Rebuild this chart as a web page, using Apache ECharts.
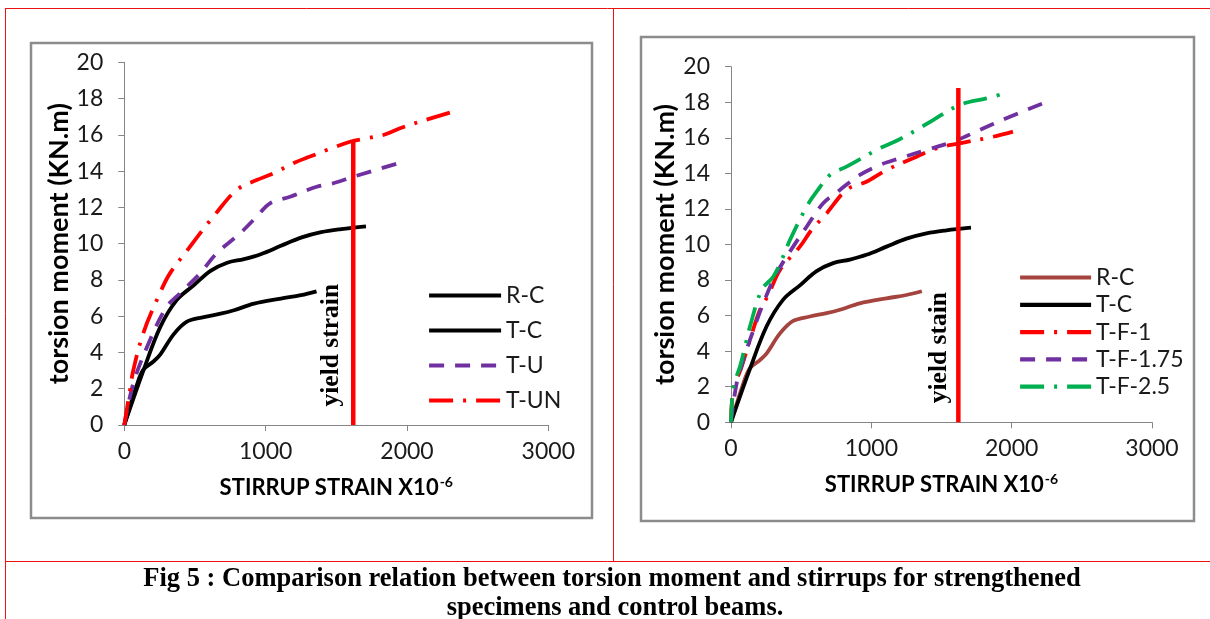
<!DOCTYPE html>
<html><head><meta charset="utf-8">
<script src="https://cdn.jsdelivr.net/npm/echarts@6/dist/echarts.min.js"></script>
<style>html,body{margin:0;padding:0;background:#fff}#c{width:1210px;height:619px}</style>
</head><body><div id="c"></div>
<script>
// ---- data (x = stirrup strain x10^-6, y = torsion moment kN.m) ----
const xMin = 0, xMax = 3000, xInterval = 1000;
const yMin = 0, yMax = 20, yInterval = 2;
const rcData = [[0,0],[88,2.19],[135,3.05],[206,3.5],[254,3.88],[349,5.0],[443,5.7],[562,5.95],[681,6.14],[776,6.33],[918,6.69],[1108,6.97],[1250,7.16],[1360,7.37]];
const tcData = [[0,0],[135,3.0],[254,5.4],[372,6.9],[491,7.7],[610,8.5],[728,8.95],[847,9.15],[965,9.42],[1108,9.88],[1250,10.33],[1393,10.63],[1535,10.8],[1710,10.95]];
const tuData = [[0,0],[64,2.3],[182,4.69],[300,6.52],[394,7.26],[536,8.36],[654,9.47],[819,10.57],[937,11.49],[1031,12.22],[1173,12.59],[1361,13.14],[1479,13.33],[1621,13.69],[1975,14.52]];
const tunData = [[0,0],[40,1.93],[64,3.03],[134,5.06],[241,7.08],[323,8.36],[465,9.83],[536,10.57],[630,11.49],[795,12.96],[937,13.51],[1055,13.88],[1196,14.43],[1314,14.8],[1432,15.16],[1597,15.62],[1715,15.81],[1833,15.99],[1951,16.36],[2093,16.73],[2329,17.28]];
const tf1Data = [[0,0],[17,1.82],[76,3.13],[135,4.63],[206,6.32],[266,7.16],[349,8.57],[491,9.88],[574,10.82],[681,11.75],[823,13.07],[965,13.53],[1108,14.19],[1322,14.94],[1464,15.41],[1630,15.69],[1867,16.06],[2009,16.35]];
const tf175Data = [[0,0],[40,2.19],[88,3.5],[135,4.63],[230,6.69],[325,8.38],[443,9.88],[539,11.0],[657,12.32],[776,13.07],[918,13.91],[1060,14.47],[1203,14.85],[1393,15.32],[1582,15.78],[1772,16.44],[1962,17.1],[2223,17.94]];
const tf25Data = [[0,0],[17,2.0],[64,3.13],[100,4.25],[135,5.38],[218,7.44],[301,8.19],[361,9.13],[420,10.25],[539,12.13],[610,12.97],[705,13.91],[823,14.38],[1060,15.41],[1191,15.88],[1322,16.44],[1440,17.0],[1630,17.85],[1820,18.22],[1950,18.5]];
const yieldStrain = 1620;
const yieldTopLeft = 15.7, yieldTopRight = 18.8;
const leftNames = ['R-C','T-C','T-U','T-UN'];
const rightNames = ['R-C','T-C','T-F-1','T-F-1.75','T-F-2.5'];
const xTitle = 'STIRRUP STRAIN X10';
const xTitleSup = '-6';
const yTitle = 'torsion moment (KN.m)';
const yieldLabels = ['yield strain', 'yield stain'];
const captionLines = ['Fig 5 : Comparison relation between torsion moment and stirrups for strengthened','specimens and control beams.'];

const FONT = 'Lato';
const AX = '#868686';
const W = 3.8;
const dashDot = [24, 10, 3, 10];
const dashed = [15, 11];

const chart = echarts.init(document.getElementById('c'), null, {renderer: 'canvas'});

function xAx(gi) {
  return {
    type: 'value', gridIndex: gi, min: xMin, max: xMax, interval: xInterval,
    axisLine: {show: true, lineStyle: {color: AX, width: 1}},
    axisTick: {show: true, length: 6, lineStyle: {color: AX}},
    splitLine: {show: false},
    axisLabel: {color: '#1a1a1a', fontFamily: FONT, fontSize: 23, margin: 15, formatter: v => String(v)},
    name: '{a|' + xTitle + '}{s|' + xTitleSup + '}', nameLocation: 'middle', nameGap: 50,
    nameTextStyle: {rich: {
      a: {fontFamily: FONT, fontWeight: 'bold', fontSize: 22, color: '#000', lineHeight: 26},
      s: {fontFamily: FONT, fontWeight: 'bold', fontSize: 14, color: '#000', verticalAlign: 'top', lineHeight: 26, padding: [0,0,11,1]}
    }}
  };
}
function yAx(gi) {
  return {
    type: 'value', gridIndex: gi, min: yMin, max: yMax, interval: yInterval,
    axisLine: {show: true, lineStyle: {color: AX, width: 1}},
    axisTick: {show: true, length: 6, lineStyle: {color: AX}},
    splitLine: {show: false},
    axisLabel: {color: '#1a1a1a', fontFamily: FONT, fontSize: 23, margin: 21, formatter: v => String(v)},
    name: yTitle, nameLocation: 'middle', nameGap: 52,
    nameTextStyle: {fontFamily: FONT, fontWeight: 'bold', fontSize: 27, color: '#000'}
  };
}
function ser(name, data, gi, color, type) {
  return {
    name: name, type: 'line', xAxisIndex: gi, yAxisIndex: gi, data: data,
    smooth: 0.35, symbol: 'none', showSymbol: false,
    lineStyle: {color: color, width: W, type: type, cap: 'butt'},
    itemStyle: {color: color}, emphasis: {disabled: true}, animation: false
  };
}
function yieldSer(gi, top) {
  return {
    name: 'yield' + gi, type: 'line', xAxisIndex: gi, yAxisIndex: gi,
    data: [[yieldStrain, 0], [yieldStrain, top]], symbol: 'none',
    lineStyle: {color: '#ff0000', width: 4.5}, emphasis: {disabled: true}, animation: false, silent: true
  };
}
const legText = {fontFamily: FONT, fontSize: 23, color: '#1a1a1a', lineHeight: 20};
const legCommon = {
  orient: 'vertical', itemHeight: 20, padding: 0, selectedMode: false, textStyle: legText,
  itemStyle: {opacity: 0, color: 'rgba(0,0,0,0)', borderWidth: 0},
  lineStyle: {width: 4.2},
  formatter: n => n.trim()
};
const option = {
  backgroundColor: '#fff',
  animation: false,
  grid: [
    {left: 124.3, top: 62.3, width: 424, height: 362.7},
    {left: 731, top: 66.7, width: 421, height: 355.6}
  ],
  xAxis: [xAx(0), xAx(1)],
  yAxis: [yAx(0), yAx(1)],
  legend: [
    Object.assign({}, legCommon, {left: 427, top: 284, itemWidth: 72, itemGap: 12, data: leftNames}),
    Object.assign({}, legCommon, {left: 1018, top: 266, itemWidth: 71, itemGap: 4.3,
      data: rightNames.map((n, i) => i < 2 ? n + ' ' : n)})
  ],
  series: [
    ser('R-C', rcData, 0, '#000000', 'solid'),
    ser('T-C', tcData, 0, '#000000', 'solid'),
    ser('T-U', tuData, 0, '#7030A0', dashed),
    ser('T-UN', tunData, 0, '#ff0000', dashDot),
    yieldSer(0, yieldTopLeft),
    ser('R-C ', rcData, 1, '#A5443E', 'solid'),
    ser('T-C ', tcData, 1, '#000000', 'solid'),
    ser('T-F-1', tf1Data, 1, '#ff0000', dashDot),
    ser('T-F-1.75', tf175Data, 1, '#7030A0', dashed),
    ser('T-F-2.5', tf25Data, 1, '#00B050', dashDot),
    yieldSer(1, yieldTopRight)
  ]
};
chart.setOption(option);

// decorations: table lines, chart-area frames, caption, yield labels
const pL = chart.convertToPixel({gridIndex: 0}, [yieldStrain, 4.4]);
const pR = chart.convertToPixel({gridIndex: 1}, [yieldStrain, 4.2]);
const red = '#ee1111';
const yFont = 'bold 25.5px "Liberation Serif"';
const capFont = 'bold 26.5px "Liberation Serif"';
chart.setOption({
  graphic: [
    {type: 'rect', shape: {x: 31, y: 43, width: 561, height: 475}, style: {fill: 'none', stroke: '#8c8c8c', lineWidth: 2.5}, z: -1, silent: true},
    {type: 'rect', shape: {x: 641, y: 37, width: 553, height: 484}, style: {fill: 'none', stroke: '#8c8c8c', lineWidth: 2.5}, z: -1, silent: true},
    {type: 'line', shape: {x1: 5, y1: 8.5, x2: 1210, y2: 8.5}, style: {stroke: red, lineWidth: 1}, silent: true},
    {type: 'line', shape: {x1: 5.5, y1: 8, x2: 5.5, y2: 619}, style: {stroke: red, lineWidth: 1}, silent: true},
    {type: 'line', shape: {x1: 613.5, y1: 8, x2: 613.5, y2: 561}, style: {stroke: red, lineWidth: 1}, silent: true},
    {type: 'line', shape: {x1: 5, y1: 561.5, x2: 1210, y2: 561.5}, style: {stroke: red, lineWidth: 1}, silent: true},
    {type: 'text', x: pL[0] - 22, y: pL[1], rotation: Math.PI / 2,
     style: {text: yieldLabels[0], font: yFont, fill: '#000', align: 'center', verticalAlign: 'middle'}, silent: true},
    {type: 'text', x: pR[0] - 19, y: pR[1], rotation: Math.PI / 2,
     style: {text: yieldLabels[1], font: yFont, fill: '#000', align: 'center', verticalAlign: 'middle'}, silent: true},
    {type: 'text', x: 612, y: 579,
     style: {text: captionLines[0], font: capFont, fill: '#000', align: 'center', verticalAlign: 'middle'}, silent: true},
    {type: 'text', x: 615, y: 608,
     style: {text: captionLines[1], font: capFont, fill: '#000', align: 'center', verticalAlign: 'middle'}, silent: true}
  ]
});
</script>
</body></html>
